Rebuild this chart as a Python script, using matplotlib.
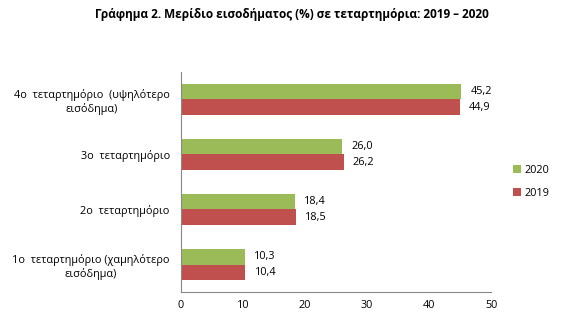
import numpy as np
import matplotlib.pyplot as plt

plt.rcParams['font.family'] = ['Open Sans', 'DejaVu Sans']

categories = ['1ο  τεταρτημόριο (χαμηλότερο\nεισόδημα)',
              '2ο  τεταρτημόριο',
              '3ο  τεταρτημόριο',
              '4ο  τεταρτημόριο  (υψηλότερο\nεισόδημα)']
vals_2020 = [10.3, 18.4, 26.0, 45.2]
vals_2019 = [10.4, 18.5, 26.2, 44.9]
xticks = [0, 10, 20, 30, 40, 50]

fig = plt.figure(figsize=(5.62, 3.27), dpi=100)
ax = fig.add_axes([0.322, 0.107, 0.552, 0.673])

y = np.arange(len(categories))
h = 0.275
b20 = ax.barh(y + h / 2, vals_2020, height=h, color='#9BBB59', label='2020')
b19 = ax.barh(y - h / 2, vals_2019, height=h, color='#C0504D', label='2019')

for bars, vals in [(b20, vals_2020), (b19, vals_2019)]:
    for b, v in zip(bars, vals):
        ax.annotate(('%.1f' % v).replace('.', ','),
                    (b.get_width(), b.get_y() + b.get_height() / 2),
                    xytext=(6.5, 0), textcoords='offset points',
                    va='center', ha='left', fontsize=7.8)

ax.set_xlim(0, 50)
ax.set_ylim(-0.5, 3.5)
ax.set_xticks(xticks)
ax.set_yticks(y)
ax.set_yticklabels(categories, multialignment='center')
ax.tick_params(length=0, labelsize=7.8)
ax.tick_params(axis='y', pad=8)
ax.tick_params(axis='x', pad=6)
for s in ['top', 'right']:
    ax.spines[s].set_visible(False)
for s in ['left', 'bottom']:
    ax.spines[s].set_color('#888888')
    ax.spines[s].set_linewidth(0.8)

ax.legend(handles=[b20, b19], loc='center left', bbox_to_anchor=(1.04, 0.5),
          frameon=False, fontsize=7.8, handlelength=0.7, handleheight=0.7,
          handletextpad=0.3, labelspacing=1.1)

fig.text(0.52, 0.955, 'Γράφημα 2. Μερίδιο εισοδήματος (%) σε τεταρτημόρια: 2019 – 2020',
         ha='center', va='center', fontsize=8.5, fontweight='bold')

fig.savefig('out.png', dpi=100)
